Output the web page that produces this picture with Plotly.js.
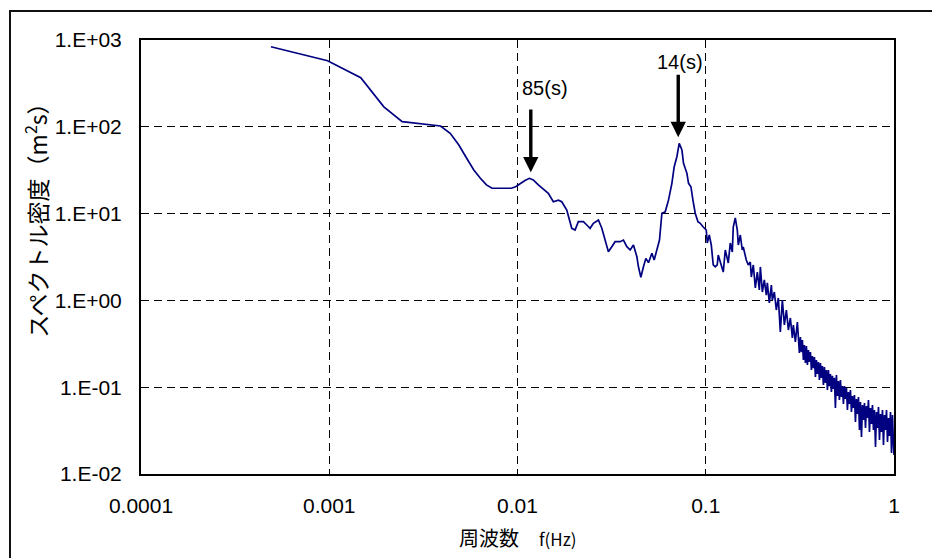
<!DOCTYPE html>
<html>
<head>
<meta charset="utf-8">
<script src="https://cdn.plot.ly/plotly-3.0.1.min.js"></script>
<style>
  html, body { margin: 0; padding: 0; background: #fff; }
  #wrap { position: relative; width: 932px; height: 558px; }
  #chart { position: absolute; left: 0; top: 0; width: 932px; height: 558px; }
  #frame { position: absolute; left: 9px; top: 10px; width: 940px; height: 560px;
           border-left: 2px solid #111; border-top: 2px solid #111; pointer-events: none; }
</style>
</head>
<body>
<div id="wrap">
  <div id="chart"></div>
  <div id="frame"></div>
</div>
<script>
// Frequency (Hz) of each spectral estimate
const freq = [
  0.00049, 0.00098, 0.00147, 0.00195, 0.00244, 0.00293, 0.00342, 0.0039, 0.00439, 0.00488,
  0.00537, 0.00586, 0.00635, 0.00684, 0.00732, 0.00781, 0.0083, 0.00879, 0.00928, 0.00977,
  0.01025, 0.01096, 0.01156, 0.01213, 0.0129, 0.01372, 0.01458, 0.0155, 0.01648, 0.01718,
  0.01827, 0.01942, 0.02022, 0.02105, 0.02239, 0.02334, 0.0243, 0.0253, 0.02691, 0.02805,
  0.0292, 0.0304, 0.0317, 0.033, 0.03509, 0.03654, 0.0381, 0.03967, 0.0413, 0.04306,
  0.0439, 0.04521, 0.04668, 0.04807, 0.04963, 0.05175, 0.05322, 0.055, 0.05679, 0.05848,
  0.0609, 0.0634, 0.06609, 0.06798, 0.07026, 0.07228, 0.07472, 0.07619, 0.07943, 0.08101,
  0.08342, 0.08549, 0.08793, 0.09088, 0.09348, 0.09698, 0.1006, 0.1019, 0.1044, 0.107,
  0.1083, 0.1096, 0.1123, 0.1151, 0.1165, 0.1194, 0.1239, 0.127, 0.1301, 0.1317,
  0.135, 0.1384, 0.14, 0.1435, 0.1471, 0.1489, 0.1526, 0.1563, 0.1582, 0.1642,
  0.1683, 0.1724, 0.1746, 0.1789, 0.1834, 0.1879, 0.1926, 0.195, 0.1998, 0.2047,
  0.2098, 0.2124, 0.2177, 0.2231, 0.2258, 0.2314, 0.2371, 0.243, 0.249, 0.2552,
  0.2616, 0.2681, 0.2747, 0.2815, 0.2885, 0.292, 0.2993, 0.3067, 0.3144,
  0.3182, 0.3221, 0.3261, 0.3301, 0.3342, 0.3383, 0.3425, 0.3467, 0.3510, 0.3553,
  0.3597, 0.3641, 0.3686, 0.3732, 0.3778, 0.3824, 0.3871, 0.3919, 0.3967, 0.4016,
  0.4065, 0.4115, 0.4166, 0.4217, 0.4269, 0.4322, 0.4375, 0.4429, 0.4483, 0.4538,
  0.4594, 0.4651, 0.4708, 0.4766, 0.4825, 0.4884, 0.4944, 0.5005, 0.5067, 0.5129,
  0.5192, 0.5256, 0.5322, 0.5387, 0.5453, 0.5520, 0.5588, 0.5657, 0.5728, 0.5798,
  0.5869, 0.5942, 0.6015, 0.6089, 0.6164, 0.6240, 0.6318, 0.6396, 0.6475, 0.6555,
  0.6636, 0.6717, 0.6800, 0.6884, 0.6969, 0.7055, 0.7142, 0.7228, 0.7317, 0.7407,
  0.7499, 0.7592, 0.7685, 0.7780, 0.7876, 0.7975, 0.8072, 0.8170, 0.8271, 0.8374,
  0.8477, 0.8582, 0.8687, 0.8793, 0.8902, 0.9012, 0.9123, 0.9235, 0.9349, 0.9464,
  0.9581, 0.9699, 0.9818, 0.9939, 1.0
];

// Spectral density (m^2 s)
const density = [
  837, 577, 368, 170, 114.5, 109.7, 105.7, 102.1, 84.2, 61.7,
  43.4, 31.8, 25.5, 21.4, 19.6, 19.6, 19.5, 19.5, 19.6, 20.4,
  21.9, 24.1, 25.5, 24.4, 21.4, 19.05, 17.1, 13.7, 14.3, 13.7,
  11.0, 6.77, 6.47, 8.07, 8.07, 7.39, 6.77, 7.73, 8.44, 6.77,
  4.96, 3.64, 4.16, 4.75, 4.75, 4.96, 4.16, 3.81, 4.35, 3.19,
  2.44, 1.85, 2.44, 3.05, 2.72, 3.49, 2.92, 3.81, 4.96, 10.1,
  10.5, 14.3, 22.3, 34.7, 45.2, 64.5, 54.0, 38.0, 29.1, 22.3,
  20.4, 14.3, 10.1, 8.07, 7.73, 7.01, 6.47, 4.58, 5.67, 4.35,
  3.52, 2.56, 2.43, 2.56, 3.33, 2.70, 2.12, 3.81, 3.08, 2.70,
  4.58, 3.61, 7.01, 8.90, 6.47, 4.35, 5.67, 3.81, 4.12, 2.92,
  2.56, 2.77, 1.86, 2.56, 1.39, 2.12, 1.32, 2.43, 1.25, 1.72,
  1.15, 1.59, 0.933, 1.50, 1.01, 1.25, 0.775, 1.066, 0.432, 1.01,
  0.521, 0.775, 0.456, 0.627, 0.369, 0.521, 0.332, 0.564, 0.248,
  0.379, 0.254, 0.350, 0.206, 0.306, 0.190, 0.298, 0.180, 0.268, 0.195,
  0.254, 0.158, 0.229, 0.166, 0.223, 0.131, 0.206, 0.142, 0.195, 0.121,
  0.190, 0.128, 0.175, 0.106, 0.171, 0.112, 0.158, 0.0929, 0.158, 0.103,
  0.142, 0.0881, 0.135, 0.0954, 0.128, 0.0576, 0.138, 0.0792, 0.118, 0.0712,
  0.121, 0.0771, 0.103, 0.0640, 0.103, 0.0731, 0.0979, 0.0546, 0.0881, 0.0640,
  0.0929, 0.0518, 0.0792, 0.0576, 0.0813, 0.0397, 0.0731, 0.0491, 0.0771, 0.0321,
  0.0675, 0.0267, 0.0624, 0.0419, 0.0658, 0.0339, 0.0607, 0.0442, 0.0712, 0.0305,
  0.0576, 0.0377, 0.0624, 0.0321, 0.0546, 0.0205, 0.0518, 0.0339, 0.0591, 0.0246,
  0.0491, 0.0305, 0.0546, 0.0216, 0.0478, 0.0321, 0.0546, 0.0234, 0.0442, 0.0274,
  0.0518, 0.0175, 0.0478, 0.0216, 0.0166
];

// Axis tick positions and their printed labels
const xTickVals = [0.0001, 0.001, 0.01, 0.1, 1];
const xTickText = ['0.0001', '0.001', '0.01', '0.1', '1'];
const yTickVals = [0.01, 0.1, 1, 10, 100, 1000];
const yTickText = ['1.E-02', '1.E-01', '1.E+00', '1.E+01', '1.E+02', '1.E+03'];

// Marked peaks: period in seconds, arrow tip / tail heights, label height
const peakPeriods = [85, 14];
const arrowTip = [30, 76];
const arrowTail = [165, 415];
const labelLevel = [280, 558];
const labelShift = [14, 2];

const latin = 'Liberation Sans, Arial, Noto Sans CJK JP, sans-serif';
const cjk = 'Noto Sans CJK JP, Liberation Sans, sans-serif';

const trace = {
  x: freq,
  y: density,
  type: 'scatter',
  mode: 'lines',
  line: { color: '#000080', width: 1.7 },
  hoverinfo: 'x+y'
};

const annotations = [];
peakPeriods.forEach((p, i) => {
  const lx = Math.log10(1 / p);
  annotations.push({
    x: lx, y: Math.log10(arrowTip[i]), xref: 'x', yref: 'y',
    ax: lx, ay: Math.log10(arrowTail[i]), axref: 'x', ayref: 'y',
    text: '', showarrow: true, arrowhead: 2, arrowsize: 0.9, arrowwidth: 3.4,
    arrowcolor: '#000'
  });
  annotations.push({
    x: lx, y: Math.log10(labelLevel[i]), xref: 'x', yref: 'y',
    xshift: labelShift[i], xanchor: 'center', yanchor: 'middle',
    text: p + '(s)', showarrow: false,
    font: { family: latin, size: 20, color: '#000' }
  });
});

// Axis titles
annotations.push({
  xref: 'paper', yref: 'paper', x: -0.139, y: 0.598,
  xanchor: 'center', yanchor: 'middle',
  text: 'スペクトル密度（m<sup>2</sup>s）', textangle: -90, showarrow: false,
  font: { family: cjk, size: 23, color: '#000' }
});
annotations.push({
  xref: 'paper', yref: 'paper', x: 0.5, y: -0.147,
  xanchor: 'center', yanchor: 'middle',
  text: '周波数　<span style="font-size:17px">f(Hz)</span>', showarrow: false,
  font: { family: cjk, size: 20, color: '#000' }
});

const axisCommon = {
  type: 'log',
  showline: true, mirror: true, linecolor: '#000', linewidth: 2,
  showgrid: true, gridcolor: '#000', gridwidth: 1, griddash: '8px,5px',
  zeroline: false, ticks: '',
  tickfont: { family: latin, size: 21, color: '#000' },
  fixedrange: true
};

const layout = {
  width: 932, height: 558,
  margin: { l: 141, r: 38, t: 40, b: 84 },
  paper_bgcolor: 'rgba(0,0,0,0)',
  plot_bgcolor: '#fff',
  showlegend: false,
  xaxis: Object.assign({}, axisCommon, {
    range: [-4, 0], tickvals: xTickVals, ticktext: xTickText, ticklabelstandoff: 12
  }),
  yaxis: Object.assign({}, axisCommon, {
    range: [-2, 3], tickvals: yTickVals, ticktext: yTickText, ticklabelstandoff: 13
  }),
  annotations: annotations
};

Plotly.newPlot('chart', [trace], layout, { displayModeBar: false, staticPlot: true });
</script>
</body>
</html>
